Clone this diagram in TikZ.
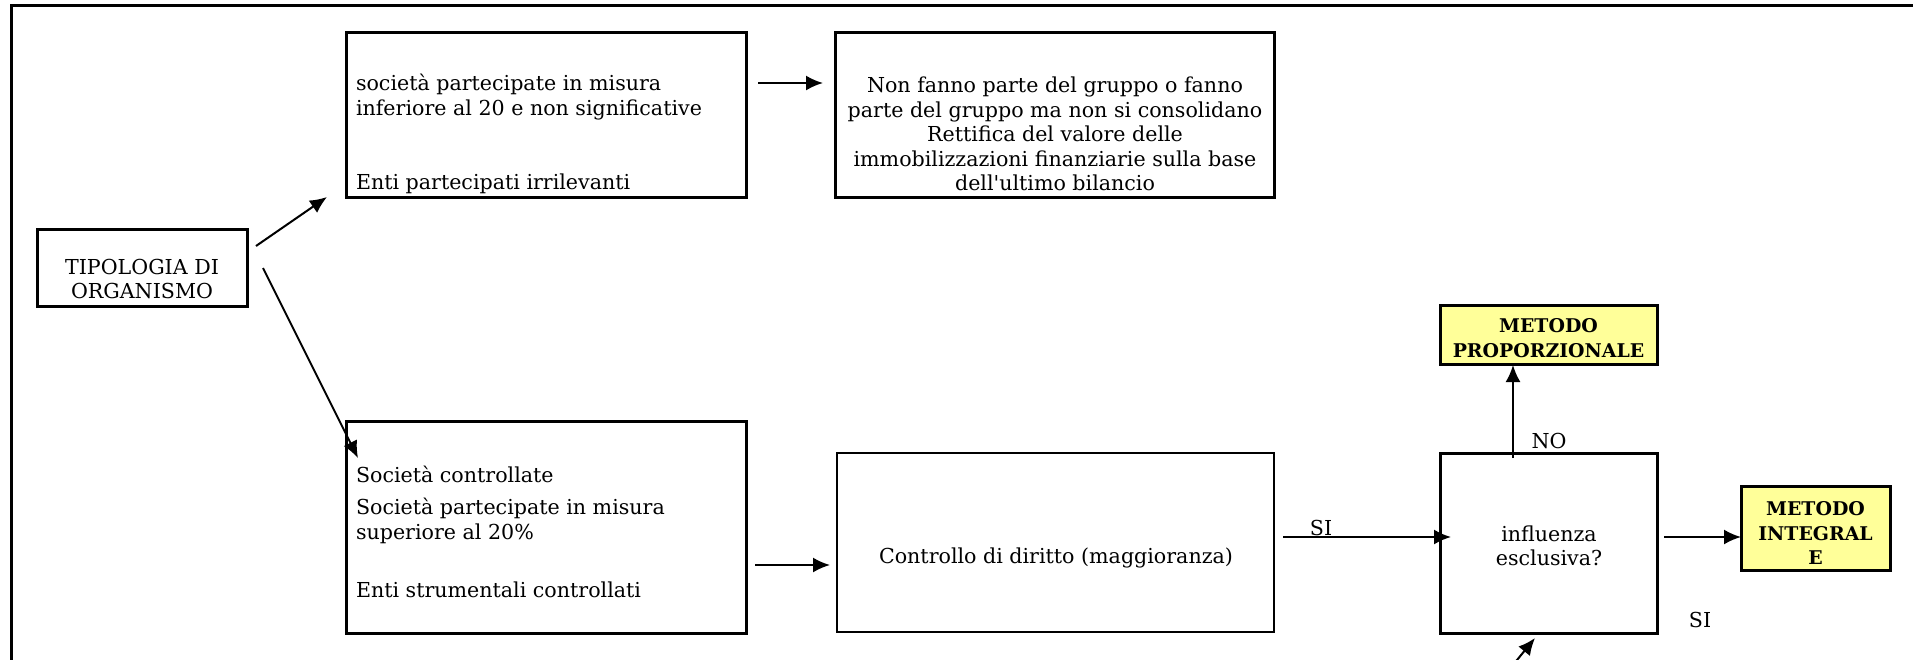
\documentclass[tikz,border=0pt]{standalone}
\usepackage{fontspec}
\setmainfont{DejaVu Serif}
\usetikzlibrary{arrows.meta}
\definecolor{yel}{HTML}{FFFF99}
\begin{document}
\begin{tikzpicture}[x=1pt,y=-1pt,
  every node/.style={inner sep=0pt, outer sep=0pt},
  box/.style={draw, line width=3pt, rectangle},
  thinbox/.style={draw, line width=2pt, rectangle},
  yelbox/.style={draw, line width=3pt, rectangle, fill=yel},
  txt/.style={font=\fontsize{20.6}{24.5}\selectfont},
  ltxt/.style={txt, align=left, anchor=west},
  ctxt/.style={txt, align=center},
  btxt/.style={font=\fontsize{18.9}{24.5}\selectfont\bfseries, align=center},
  arr/.style={line width=2pt, -{Latex[length=17pt,width=15pt]}}]
\useasboundingbox (0,0) rectangle (1913,659);
% outer frame
\draw[line width=3pt] (1930,680) -- (11,680) -- (11,5.5) -- (1930,5.5);
% boxes
\node[box, minimum width=210pt, minimum height=77pt] (T) at (142,267.5) {};
\node[box, minimum width=400pt, minimum height=165pt] (A) at (546,114.5) {};
\node[box, minimum width=439pt, minimum height=165pt] (B) at (1054.5,114.5) {};
\node[box, minimum width=400pt, minimum height=212pt] (C) at (546,527) {};
\node[thinbox, minimum width=437pt, minimum height=179pt] (D) at (1055.5,542.5) {};
\node[box, minimum width=217pt, minimum height=180pt] (E) at (1548.5,543) {};
\node[yelbox, minimum width=217pt, minimum height=59pt] (MP) at (1548.5,334.5) {};
\node[yelbox, minimum width=149pt, minimum height=84pt] (MI) at (1815.5,528) {};
% texts
\node[ctxt] (tT) at (142,279) {TIPOLOGIA DI\\ORGANISMO};
\node[ltxt] (tA1) at (356,97) {società partecipate in misura\\inferiore al 20 e non significative};
\node[ltxt] (tA2) at (356,184) {Enti partecipati irrilevanti};
\node[ctxt] (tB) at (1055,134) {Non fanno parte del gruppo o fanno\\parte del gruppo ma non si consolidano\\Rettifica del valore delle\\immobilizzazioni finanziarie sulla base\\dell\textquotesingle ultimo bilancio};
\node[ltxt] (tC1) at (356,474) {Società controllate};
\node[ltxt] (tC2) at (356,521) {Società partecipate in misura\\superiore al 20\%};
\node[ltxt] (tC3) at (356,590) {Enti strumentali controllati};
\node[ctxt] (tD) at (1056,558) {Controllo di diritto (maggioranza)};
\node[ctxt] (tE) at (1549,546) {influenza\\esclusiva?};
\node[btxt] (tMP) at (1548.5,338) {METODO\\PROPORZIONALE};
\node[btxt] (tMI) at (1815.5,533) {METODO\\INTEGRAL\\E};
\node[txt] (si1) at (1321,528) {SI};
\node[txt] (no1) at (1549,441) {NO};
\node[txt] (si2) at (1700,620) {SI};
% connector end points
\coordinate (a1s) at (256,246);
\coordinate (a1e) at (327,197);
\coordinate (a2s) at (263,268);
\coordinate (a2e) at (358,458);
\coordinate (abs) at (758,83);
\coordinate (abe) at (823,83);
\coordinate (cds) at (755,565);
\coordinate (cde) at (830,565);
\coordinate (des) at (1283,537);
\coordinate (dee) at (1451,537);
\coordinate (nos) at (1513,458);
\coordinate (noe) at (1513,365);
\coordinate (eis) at (1664,537);
\coordinate (bts) at (1508,671);
\coordinate (bte) at (1535,638);
% connectors
\draw[arr] (a1s) -- (a1e);
\draw[arr] (a2s) -- (a2e);
\draw[arr] (abs) -- (abe);
\draw[arr] (cds) -- (cde);
\draw[arr] (des) -- (dee);
\draw[arr] (nos) -- (noe);
\draw[arr] (eis) -- (MI.west |- eis);
\draw[arr] (bts) -- (bte);
\end{tikzpicture}
\end{document}
